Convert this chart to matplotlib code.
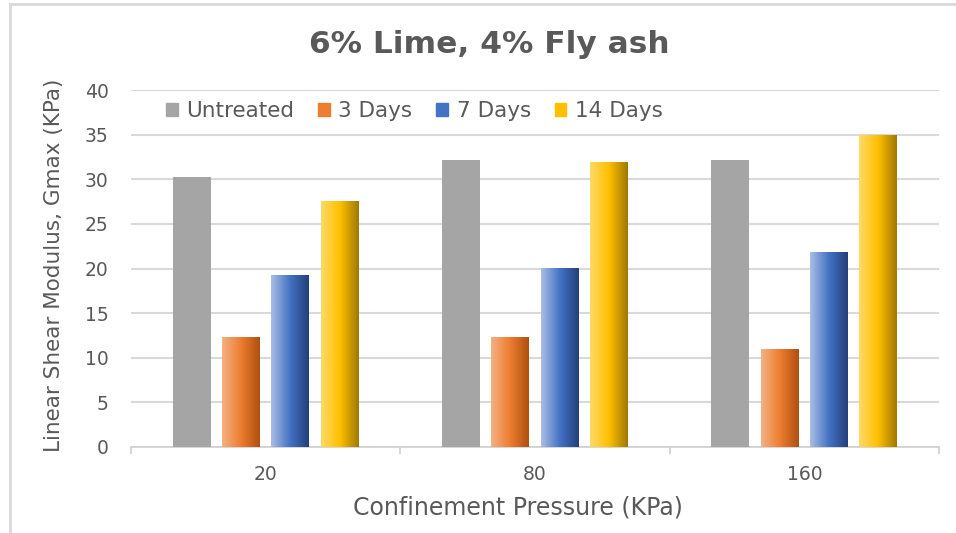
import numpy as np
import matplotlib.pyplot as plt
from matplotlib.colors import LinearSegmentedColormap
from matplotlib.lines import Line2D

plt.rcParams['font.family'] = ['DejaVu Sans']

# Gmax (KPa) by confinement pressure and curing time
pressures = ['20', '80', '160']
series = ['Untreated', '3 Days', '7 Days', '14 Days']
untreated = [30.2, 32.2, 32.2]
days_3 = [12.3, 12.3, 11.0]
days_7 = [19.3, 20.1, 21.9]
days_14 = [27.6, 31.9, 35.0]

# light -> base -> dark, left to right across each bar
gradients = [
    None,
    ['#F4B183', '#ED7D31', '#B0500F'],
    ['#A9BDE3', '#4472C4', '#23407A'],
    ['#FFD966', '#FFC000', '#A07A00'],
]
flat = ['#A5A5A5', '#ED7D31', '#4472C4', '#FFC000']
text_col = '#595959'

fig = plt.figure(figsize=(9.56, 5.33), dpi=100)
ax = fig.add_axes([131 / 956, 1 - 447 / 533, (939 - 131) / 956, (447 - 90) / 533])

x = np.arange(len(pressures))
width = 0.141
step = 0.183
values = [untreated, days_3, days_7, days_14]
ramp = np.linspace(0, 1, 64).reshape(1, -1)

for i, vals in enumerate(values):
    offs = (i - 1.5) * step
    bars = ax.bar(x + offs, vals, width, color=flat[i], zorder=3)
    if gradients[i] is None:
        continue
    cmap = LinearSegmentedColormap.from_list(series[i], gradients[i])
    for b in bars:
        bx, bw, bh = b.get_x(), b.get_width(), b.get_height()
        im = ax.imshow(ramp, cmap=cmap, aspect='auto', zorder=4,
                       extent=[bx, bx + bw, 0, bh], interpolation='bilinear')
        im.set_clip_path(b)

ax.set_xlim(-0.5, len(pressures) - 0.5)
ax.set_ylim(0, 40)
ax.set_yticks(range(0, 41, 5))
ax.set_xticks(x)
ax.set_xticklabels(pressures)
ax.set_xticks(np.arange(len(pressures) + 1) - 0.5, minor=True)
ax.tick_params(axis='x', which='major', length=0, pad=13, labelsize=13.5, labelcolor=text_col)
ax.tick_params(axis='x', which='minor', length=5, color='#D0D0D0', width=1.2)
ax.tick_params(axis='y', length=0, pad=16, labelsize=13.5, labelcolor=text_col)
ax.grid(axis='y', color='#D9D9D9', linewidth=1.5, zorder=0)
for s in ['left', 'right', 'top']:
    ax.spines[s].set_visible(False)
ax.spines['bottom'].set_color('#D0D0D0')
ax.spines['bottom'].set_linewidth(1.2)

ax.set_xlabel('Confinement Pressure (KPa)', fontsize=17, color=text_col)
ax.xaxis.set_label_coords(0.479, -0.135)
ax.set_ylabel('Linear Shear Modulus, Gmax (KPa)', fontsize=15.5, color=text_col)
ax.yaxis.set_label_coords(-0.083, 0.51)
fig.text(489 / 956, 1 - 53 / 533, '6% Lime, 4% Fly ash', ha='center', va='baseline',
         fontsize=22.5, fontweight='bold', color=text_col)

handles = [plt.Rectangle((0, 0), 1, 1, color=c) for c in flat]
ax.legend(handles, series, loc='center left', bbox_to_anchor=(0.043, 0.94), ncol=4,
          frameon=False, fontsize=15.5, labelcolor=text_col, handlelength=0.55,
          handleheight=0.55, handletextpad=0.4, columnspacing=1.1,
          borderaxespad=0, borderpad=0)

# outer frame edges (left and top)
fig.add_artist(Line2D([10 / 956, 10 / 956], [0, 1 - 4 / 533], transform=fig.transFigure,
                      color='#D9D9D9', linewidth=2))
fig.add_artist(Line2D([10 / 956, 1], [1 - 4 / 533, 1 - 4 / 533], transform=fig.transFigure,
                      color='#D9D9D9', linewidth=2))

fig.savefig('out.png', dpi=100)
